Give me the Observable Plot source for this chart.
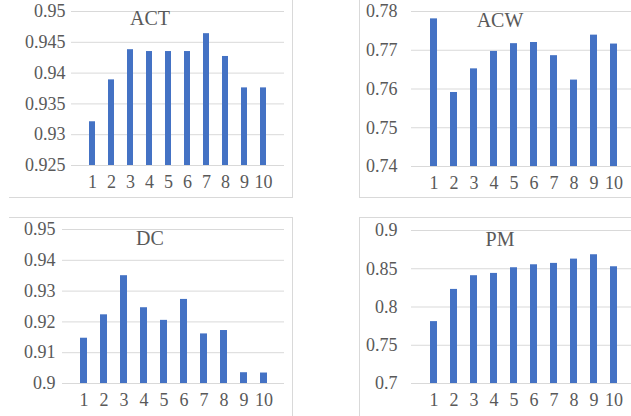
<!DOCTYPE html>
<html>
<head>
<meta charset="utf-8">
<script src="https://cdn.jsdelivr.net/npm/d3@7"></script>
<script src="https://cdn.jsdelivr.net/npm/@observablehq/plot@0.6"></script>
<style>
  html, body { margin: 0; padding: 0; background: #fff; }
  #root { position: relative; width: 631px; height: 416px; overflow: hidden; background: #fff; font-family: "Liberation Serif", serif; }
  .panel { position: absolute; border: 1px solid #d9d9d9; box-sizing: border-box; }
  #root svg { position: absolute; overflow: visible; background: transparent; color: #595959; }
  #root svg text { font-family: "Liberation Serif", serif !important; font-size: 18px !important; fill: #595959; font-variant: normal; }
  .title { position: absolute; text-align: center; color: #595959; font-size: 20px; font-family: "Liberation Serif", serif; line-height: 1; }
</style>
</head>
<body>
<div id="root"></div>
<script>
const categories = ["1", "2", "3", "4", "5", "6", "7", "8", "9", "10"];

const actValues = [0.9321, 0.9389, 0.9438, 0.9435, 0.9435, 0.9435, 0.9464, 0.9427, 0.9376, 0.9376];
const acwValues = [0.7781, 0.7591, 0.7652, 0.7697, 0.7717, 0.7720, 0.7686, 0.7623, 0.7739, 0.7716];
const dcValues  = [0.9147, 0.9223, 0.9350, 0.9246, 0.9205, 0.9273, 0.9161, 0.9172, 0.9035, 0.9034];
const pmValues  = [0.7809, 0.8230, 0.8409, 0.8439, 0.8513, 0.8552, 0.8570, 0.8626, 0.8683, 0.8526];

const actTicks = [0.925, 0.93, 0.935, 0.94, 0.945, 0.95];
const acwTicks = [0.74, 0.75, 0.76, 0.77, 0.78];
const dcTicks  = [0.9, 0.91, 0.92, 0.93, 0.94, 0.95];
const pmTicks  = [0.7, 0.75, 0.8, 0.85, 0.9];

const titles = ["ACT", "ACW", "DC", "PM"];

const root = document.getElementById("root");

function addPanel(cls, style) {
  const d = document.createElement("div");
  d.className = cls;
  Object.assign(d.style, style);
  root.appendChild(d);
  return d;
}

// panel frames
addPanel("panel", {left: "9px", top: "-10px", width: "284px", height: "208px", borderLeft: "none"});
addPanel("panel", {left: "359px", top: "-10px", width: "300px", height: "208px"});
addPanel("panel", {left: "9px", top: "217px", width: "284px", height: "230px", borderLeft: "none"});
addPanel("panel", {left: "359px", top: "217px", width: "300px", height: "230px"});

function makeChart({values, ticks, left, top, width, height, mL, mR, mT, mB, pad}) {
  const data = categories.map((c, i) => ({k: c, v: values[i]}));
  const domain = [ticks[0], ticks[ticks.length - 1]];
  const chart = Plot.plot({
    width, height,
    marginLeft: mL, marginRight: mR, marginTop: mT, marginBottom: mB,
    x: {domain: categories, padding: 0.67, label: null, tickSize: 0, tickPadding: 10},
    y: {domain, ticks, label: null, tickSize: 0, tickPadding: pad, tickFormat: d => String(+d.toFixed(3))},
    marks: [
      Plot.ruleY(ticks, {stroke: "#d9d9d9", strokeWidth: 1}),
      Plot.barY(data, {x: "k", y1: domain[0], y2: "v", fill: "#4472C4"})
    ]
  });
  chart.style.left = left + "px";
  chart.style.top = top + "px";
  root.appendChild(chart);
}

makeChart({values: actValues, ticks: actTicks, left: 0, top: 0, width: 292, height: 196, mL: 71, mR: 8, mT: 11, mB: 31, pad: 6});
makeChart({values: acwValues, ticks: acwTicks, left: 359, top: 0, width: 284, height: 197, mL: 52, mR: 8, mT: 11, mB: 31, pad: 14});
makeChart({values: dcValues, ticks: dcTicks, left: 0, top: 217, width: 292, height: 199, mL: 62, mR: 8, mT: 12, mB: 33, pad: 7});
makeChart({values: pmValues, ticks: pmTicks, left: 359, top: 217, width: 284, height: 199, mL: 52, mR: 8, mT: 13, mB: 33, pad: 14});

// titles (baseline positions)
const titlePos = [
  {cx: 150, base: 24},
  {cx: 500, base: 26},
  {cx: 150, base: 244},
  {cx: 500, base: 245}
];
titles.forEach((t, i) => {
  const d = addPanel("title", {left: (titlePos[i].cx - 60) + "px", width: "120px", top: (titlePos[i].base - 16) + "px"});
  d.textContent = t;
});
</script>
</body>
</html>
